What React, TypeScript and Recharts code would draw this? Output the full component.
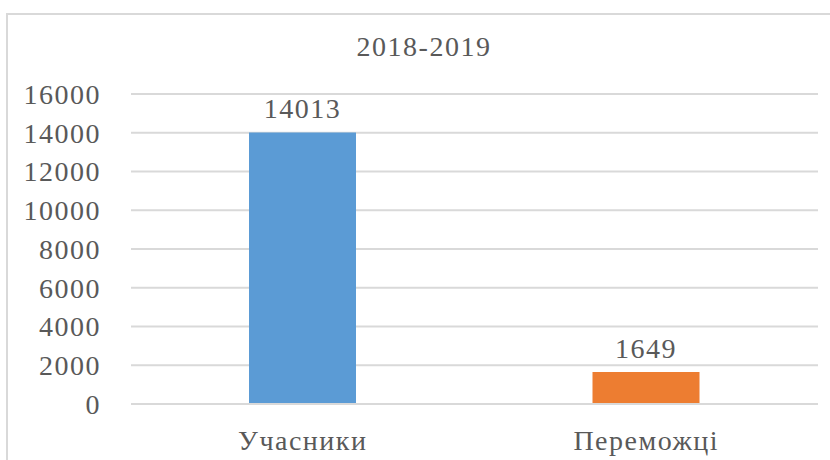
import { BarChart, Bar, XAxis, YAxis, CartesianGrid, Cell, LabelList } from "recharts";

const categories = ["Учасники", "Переможці"];
const values = [14013, 1649];
const barColors = ["#5B9BD5", "#ED7D31"];
const yTicks = [0, 2000, 4000, 6000, 8000, 10000, 12000, 14000, 16000];
const title = "2018-2019";

const data = categories.map((name, i) => ({ name, value: values[i] }));

const font = "'Liberation Serif', 'Times New Roman', serif";
const textColor = "#595959";
const spacing = 1.5;

export default function App() {
  return (
    <div style={{ position: "absolute", left: 0, top: 0, width: 830, height: 460, overflow: "hidden", background: "#fff" }}>
      <div
        style={{
          position: "absolute",
          left: 6,
          top: 13,
          width: 840,
          height: 470,
          border: "2px solid #D9D9D9",
          boxSizing: "border-box",
        }}
      />
      <div
        style={{
          position: "absolute",
          left: 0,
          width: 848,
          top: 30,
          textAlign: "center",
          fontFamily: font,
          fontSize: 28,
          letterSpacing: spacing,
          color: textColor,
          lineHeight: "34px",
        }}
      >
        {title}
      </div>
      <div style={{ position: "absolute", left: 0, top: 0 }}>
        <BarChart
          width={830}
          height={460}
          data={data}
          margin={{ top: 94, right: 12, left: 0, bottom: 0 }}
        >
          <CartesianGrid vertical={false} stroke="#D9D9D9" strokeWidth={2} />
          <XAxis
            dataKey="name"
            axisLine={{ stroke: "#D9D9D9", strokeWidth: 2 }}
            tickLine={false}
            tickMargin={20}
            tick={{ fill: textColor, fontSize: 28, fontFamily: font, letterSpacing: spacing }}
            height={56}
          />
          <YAxis
            domain={[0, 16000]}
            ticks={yTicks}
            interval={0}
            width={131}
            axisLine={false}
            tickLine={false}
            tickMargin={24}
            tick={{ fill: textColor, fontSize: 28, fontFamily: font, letterSpacing: spacing }}
          />
          <Bar dataKey="value" barSize={107} isAnimationActive={false}>
            {data.map((d, i) => (
              <Cell key={d.name} fill={barColors[i]} />
            ))}
            <LabelList
              dataKey="value"
              position="top"
              offset={14}
              fill={textColor}
              fontSize={28}
              fontFamily={font}
              letterSpacing={spacing}
            />
          </Bar>
        </BarChart>
      </div>
    </div>
  );
}
